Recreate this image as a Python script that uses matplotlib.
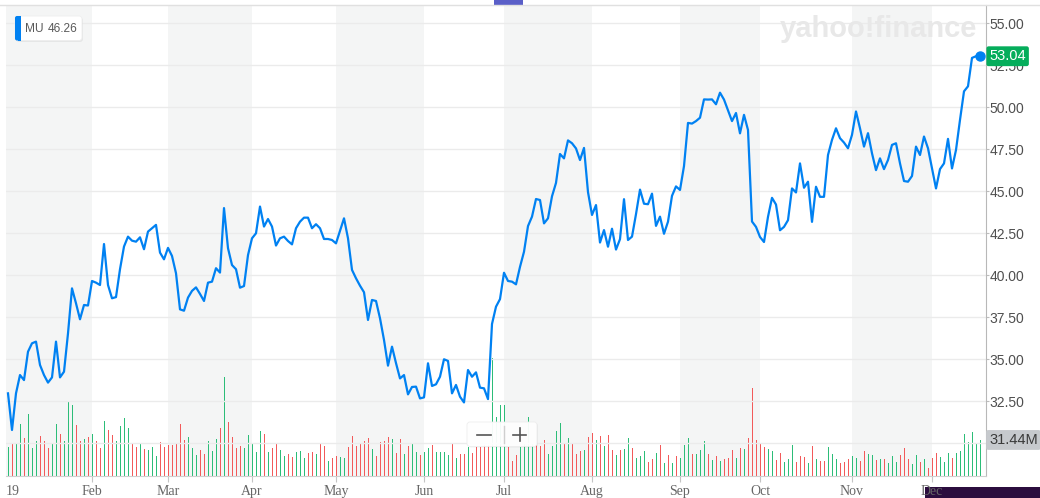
import numpy as np
import pandas as pd
import matplotlib
matplotlib.use("Agg")
import matplotlib.pyplot as plt
from matplotlib.patches import Rectangle, FancyBboxPatch
from matplotlib.lines import Line2D
import matplotlib.transforms as mtransforms

W, H = 1040, 498

# ---------------- data ----------------
holidays = ["2019-01-21", "2019-02-18", "2019-04-19", "2019-05-27",
            "2019-07-04", "2019-09-02", "2019-11-28"]
dates = pd.bdate_range("2019-01-02", "2019-12-18")
dates = dates[~dates.isin(pd.to_datetime(holidays))]

close_jan = [32.97, 30.79, 32.97, 34.06, 33.76, 35.45, 35.95, 36.05, 34.66, 34.06, 33.61,
             33.92, 36.05, 33.92, 34.26, 36.54, 39.22, 38.33, 37.38, 38.23, 38.20]
close_feb = [39.66, 39.56, 39.42, 41.86, 39.42, 38.63, 38.70, 40.36, 41.71, 42.30, 42.06,
             42.00, 42.26, 41.55, 42.60, 42.80, 43.00, 41.35, 40.95]
close_mar = [41.63, 41.15, 40.12, 37.97, 37.89, 38.67, 39.07, 39.28, 38.89, 38.47, 39.56,
             39.62, 40.42, 40.16, 44.00, 41.61, 40.61, 40.36, 39.26, 39.36, 41.20]
close_apr = [42.20, 42.50, 44.09, 42.90, 43.35, 42.90, 41.77, 42.20, 42.30, 42.04, 41.84,
             42.80, 43.19, 43.43, 43.43, 42.80, 43.04, 42.80, 42.16, 42.16, 42.10]
close_may = [41.90, 42.64, 43.39, 42.20, 40.32, 39.82, 39.38, 38.99, 37.34, 38.53, 38.47,
             37.44, 36.15, 34.62, 35.75, 34.77, 33.86, 34.06, 32.91, 33.35, 33.37, 32.67]
close_jun = [32.73, 34.76, 33.41, 33.51, 33.96, 35.00, 34.90, 32.97, 33.47, 32.77, 32.43,
             34.36, 33.96, 34.22, 33.31, 33.27, 32.63, 37.10, 38.13, 38.58]
close_jul = [40.15, 39.66, 39.62, 39.46, 40.50, 41.40, 42.93, 43.49, 44.54, 44.48, 43.09,
             43.39, 44.70, 45.50, 47.22, 46.96, 48.03, 47.86, 47.55, 46.86, 47.58, 44.95]
close_aug = [43.59, 44.18, 41.95, 42.69, 41.70, 42.77, 41.53, 42.15, 44.53, 42.10, 42.30,
             43.64, 45.10, 44.26, 44.23, 44.86, 42.94, 43.49, 42.47, 43.19, 44.73, 45.29]
close_sep = [45.08, 46.50, 49.07, 49.03, 49.18, 49.38, 50.47, 50.46, 50.47, 50.18, 50.87,
             50.46, 49.82, 49.18, 49.66, 48.45, 49.55, 48.65, 43.20, 42.88]
close_oct = [42.28, 41.98, 43.48, 44.61, 44.21, 42.68, 42.88, 43.28, 45.17, 44.93, 46.66,
             45.21, 45.57, 43.18, 45.27, 44.67, 44.67, 47.16, 48.06, 48.75, 48.16, 47.90, 47.56]
close_nov = [48.36, 49.75, 48.75, 47.66, 48.46, 47.26, 46.26, 46.96, 46.32, 46.86, 47.76,
             47.86, 46.66, 45.61, 45.57, 45.91, 47.66, 47.16, 48.26, 47.56]
close_dec = [46.36, 45.17, 46.32, 46.66, 48.12, 46.36, 47.46, 49.25, 50.95, 51.25, 52.94,
             53.04, 53.04]

# volume in millions
vol_jan = [25.6, 29.1, 28.2, 45.4, 33.2, 54.4, 24.4, 30.6, 35.2, 30.8, 24.4, 28.8, 45.4,
           36.7, 30.6, 65.5, 62.3, 44.5, 30.6, 32.3, 33.8]
vol_feb = [36.7, 30.8, 24.4, 48.0, 40.2, 35.8, 30.6, 43.9, 50.6, 41.9, 28.8, 25.3, 27.9,
           23.6, 22.7, 25.3, 17.8, 29.7, 25.3]
vol_mar = [26.8, 27.4, 29.1, 45.4, 31.4, 34.0, 24.4, 18.3, 22.7, 19.2, 30.6, 22.1, 32.3,
           41.9, 86.7, 47.1, 34.0, 24.4, 26.2, 24.4, 35.8]
vol_apr = [27.9, 21.0, 39.3, 36.7, 21.0, 24.4, 28.8, 22.7, 17.5, 19.2, 16.6, 21.0, 21.8,
           15.7, 20.1, 21.0, 19.2, 27.9, 26.2, 13.1, 15.7]
vol_may = [17.5, 16.6, 15.7, 25.3, 35.2, 26.2, 28.2, 30.8, 33.2, 23.6, 17.5, 30.0, 30.6,
           34.3, 32.3, 20.1, 32.3, 19.2, 26.2, 28.8, 21.0, 18.3]
vol_jun = [21.0, 24.4, 27.1, 21.0, 21.0, 21.0, 18.3, 28.8, 15.7, 19.2, 19.2, 25.3, 20.1,
           25.3, 25.3, 27.1, 27.1, 103.0, 51.8, 62.3]
vol_jul = [62.3, 25.6, 13.4, 18.3, 25.6, 29.1, 51.8, 29.1, 27.1, 26.2, 31.4, 19.2, 26.2,
           39.3, 46.6, 28.8, 33.2, 28.2, 19.2, 22.1, 22.7, 34.0]
vol_aug = [37.5, 31.4, 34.9, 26.2, 35.8, 22.7, 18.3, 22.7, 23.6, 33.2, 24.4, 15.7, 17.5,
           22.1, 12.2, 14.8, 20.1, 27.1, 11.3, 18.3, 11.3, 17.5]
vol_sep = [15.7, 27.1, 33.2, 19.2, 19.2, 22.7, 30.6, 19.2, 14.0, 17.5, 13.1, 14.8, 15.7,
           22.7, 15.7, 24.4, 23.6, 33.2, 76.8, 31.4]
vol_oct = [27.9, 25.6, 23.6, 21.8, 14.0, 20.1, 12.2, 14.8, 27.1, 12.2, 17.5, 16.3, 11.3,
           26.2, 14.8, 13.1, 13.1, 25.3, 19.2, 14.8, 11.3, 12.2, 14.8]
vol_nov = [17.5, 15.7, 13.1, 21.8, 19.2, 18.3, 14.0, 14.8, 14.8, 11.3, 17.5, 12.2, 18.0,
           24.4, 14.8, 10.5, 18.3, 12.2, 14.8, 7.0]
vol_dec = [15.7, 20.1, 16.6, 12.2, 20.1, 15.7, 20.1, 21.8, 36.7, 29.7, 38.4, 27.9, 31.44]

# volume bar direction: g = up day, r = down day
dir_months = ["grggrgggrrrggrgggrrgr", "grrgrrggggrrgrgggrr", "rrrrrgggrrgggrgrrrrgg",
              "gggrgrrggrrgggrrgrrgr", "rggrrrrrrgrrrrgrrgrggr", "ggrggggrgrrgrrrrrggg",
              "grrrggggrrrggggrgrrrgr", "rgrgrrgrggrgggrrgrgrgr", "gggrgggrgrgrrrgrgrrr",
              "rrggrrgggrrrgrgrrgggrrr", "ggrrggrgrgggrrrggrgr", "rrgggrggggggg"]

month_labels = ["Feb", "Mar", "Apr", "May", "Jun", "Jul", "Aug", "Sep", "Oct", "Nov", "Dec"]
grid_levels = [30.0, 32.5, 35.0, 37.5, 40.0, 42.5, 45.0, 47.5, 50.0, 52.5, 55.0]
labelled_levels = [32.5, 35.0, 37.5, 40.0, 42.5, 45.0, 47.5, 50.0, 52.5, 55.0]
ticker = "MU"
hover_value = "46.26"

close = np.concatenate([close_jan, close_feb, close_mar, close_apr, close_may, close_jun,
                        close_jul, close_aug, close_sep, close_oct, close_nov, close_dec])
vol = np.concatenate([vol_jan, vol_feb, vol_mar, vol_apr, vol_may, vol_jun,
                      vol_jul, vol_aug, vol_sep, vol_oct, vol_nov, vol_dec])
direction = np.array(list("".join(dir_months)))
n = len(close)
idx = np.arange(n)
dates = dates[:n]

month_num = dates.month.values
month_starts = [0] + [i for i in range(1, n) if month_num[i] != month_num[i - 1]]

# ---------------- style ----------------
LINE = "#0081f2"
GREEN_BAR = "#2cbd78"
RED_BAR = "#f25a5a"
SHADE = "#f4f5f5"
GRID = "#ebebeb"

fig = plt.figure(figsize=(W / 100, H / 100), dpi=100)
fig.patch.set_facecolor("white")

rect = [6 / W, (H - 476) / H, 980 / W, 471 / H]
ax_vol = fig.add_axes(rect, zorder=0)
ax = fig.add_axes(rect, zorder=1)
ax.patch.set_visible(False)

xlim = (-0.5, n + 0.5)
for a in (ax_vol, ax):
    a.set_xlim(*xlim)

# shaded month bands
bounds = month_starts + [n + 0.5]
bounds[0] = -0.5
for j in range(len(month_starts)):
    if j % 2 == 0:
        ax_vol.axvspan(bounds[j], bounds[j + 1], color=SHADE, lw=0, zorder=0)

# volume bars
vcolors = np.where(direction == "g", GREEN_BAR, RED_BAR)
ax_vol.vlines(idx, 0, vol, colors=vcolors, linewidth=0.72, antialiased=False, zorder=2)
ax_vol.set_ylim(0, 411)
ax_vol.axis("off")

# price line
ax.set_ylim(28.05, 56.09)
ax.set_yticks(grid_levels)
ax.yaxis.grid(True, color=GRID, lw=1.0, zorder=0)
ax.set_axisbelow(True)
ax.plot(idx, close, color=LINE, lw=1.6, solid_joinstyle="round", zorder=3)
ax.plot(idx[-1], close[-1], "o", color=LINE, ms=6.5, zorder=4)

for s in ("left", "top"):
    ax.spines[s].set_visible(False)
ax.spines["right"].set_color("#b8b8b8")
ax.spines["bottom"].set_color("#cfcfcf")
ax.yaxis.tick_right()
ax.set_yticklabels([f"{v:.2f}" if v in labelled_levels else "" for v in grid_levels],
                   fontfamily="Liberation Sans")
ax.tick_params(axis="y", which="both", length=2, color="#bdbdbd", pad=0.8,
               labelsize=10, labelcolor="#4f4f4f")

ax.set_xticks(month_starts[1:])
ax.set_xticklabels(month_labels, fontfamily="Liberation Serif", fontsize=10, color="#666666")
ax.tick_params(axis="x", length=4, color="#c4c4c4", pad=2.2)

blend_x = mtransforms.blended_transform_factory(ax.transData, ax.transAxes)
ax.annotate("19", xy=(-0.5, 0), xycoords=blend_x, xytext=(0, -6.2), textcoords="offset points",
            ha="left", va="top", fontfamily="Liberation Serif", fontsize=10, color="#666666")

# last price label
blend_y = mtransforms.blended_transform_factory(ax.transAxes, ax.transData)
ax.annotate(f"{close[-1]:.2f}", xy=(1, close[-1]), xycoords=blend_y, xytext=(2.4, 0),
            textcoords="offset points", ha="left", va="center", color="white",
            fontfamily="Liberation Sans", fontsize=10.5, zorder=6, annotation_clip=False,
            bbox=dict(boxstyle="round,pad=0.2,rounding_size=0.15", fc="#05ad5b", ec="none"))

# last volume label (drawn on the top axes, positioned in volume units)
blend_v = mtransforms.blended_transform_factory(ax_vol.transAxes, ax_vol.transData)
ax.annotate(f"{vol[-1]:.2f}M", xy=(1, vol[-1]), xycoords=blend_v, xytext=(2.2, 0),
            textcoords="offset points", ha="left", va="center", color="#3a3a3a",
            fontfamily="Liberation Sans", fontsize=10.5, zorder=6, annotation_clip=False,
            bbox=dict(boxstyle="round,pad=0.2,rounding_size=0.15", fc="#c6c9cd", ec="none"))

# ---------------- overlay decorations (pixel coords) ----------------
ov = fig.add_axes([0, 0, 1, 1], zorder=5)
ov.set_xlim(0, W)
ov.set_ylim(H, 0)
ov.axis("off")
ov.patch.set_visible(False)

ov.add_line(Line2D([0, W], [5.3, 5.3], color="#e0e0e0", lw=1.0))
ov.add_patch(Rectangle((494, 0), 29, 4.5, color="#5a5fc8", lw=0))

ov.text(780, 29, "yahoo!finance", fontfamily="Liberation Sans", fontweight="bold",
        fontsize=21, color="#e8e8e8", ha="left", va="center", zorder=1)

# legend box
ov.add_patch(FancyBboxPatch((16, 17.5), 67, 24.5, boxstyle="round,pad=0,rounding_size=3",
                            fc="#000000", ec="none", alpha=0.06))
ov.add_patch(FancyBboxPatch((15, 16), 67, 24.5, boxstyle="round,pad=0,rounding_size=3",
                            fc="white", ec="#eeeeee", lw=0.6))
ov.add_patch(FancyBboxPatch((15, 16), 5, 24.5, boxstyle="round,pad=0,rounding_size=2",
                            fc=LINE, ec="none"))
ov.add_patch(Rectangle((18, 16), 2.5, 24.5, fc=LINE, ec="none"))
ov.text(25, 28.8, ticker, fontfamily="Liberation Sans", fontsize=8.6, color="#5a5a5a",
        ha="left", va="center")
ov.text(48, 28.8, hover_value, fontfamily="Liberation Sans", fontsize=8.6, color="#5a5a5a",
        ha="left", va="center")

# zoom button
ov.add_patch(FancyBboxPatch((468, 423), 70, 24.5, boxstyle="round,pad=0,rounding_size=3",
                            fc="#000000", ec="none", alpha=0.05))
ov.add_patch(FancyBboxPatch((467, 422), 70, 24.5, boxstyle="round,pad=0,rounding_size=3",
                            fc="white", ec="#ececec", lw=0.6, alpha=0.95))
ov.add_line(Line2D([477, 491], [435, 435], color="#555555", lw=1.2))
ov.add_line(Line2D([503.5, 503.5], [426, 443], color="#cfcfcf", lw=1.0))
ov.add_line(Line2D([513, 526], [434.5, 434.5], color="#555555", lw=1.2))
ov.add_line(Line2D([519.5, 519.5], [428, 441], color="#555555", lw=1.2))

strip = Rectangle((925 / W, 0), (W - 925) / W, (H - 487) / H, transform=fig.transFigure,
                  fc="#2b0d3e", ec="none", zorder=-1)
fig.patches.append(strip)

fig.savefig("out.png", dpi=100, facecolor="white")
